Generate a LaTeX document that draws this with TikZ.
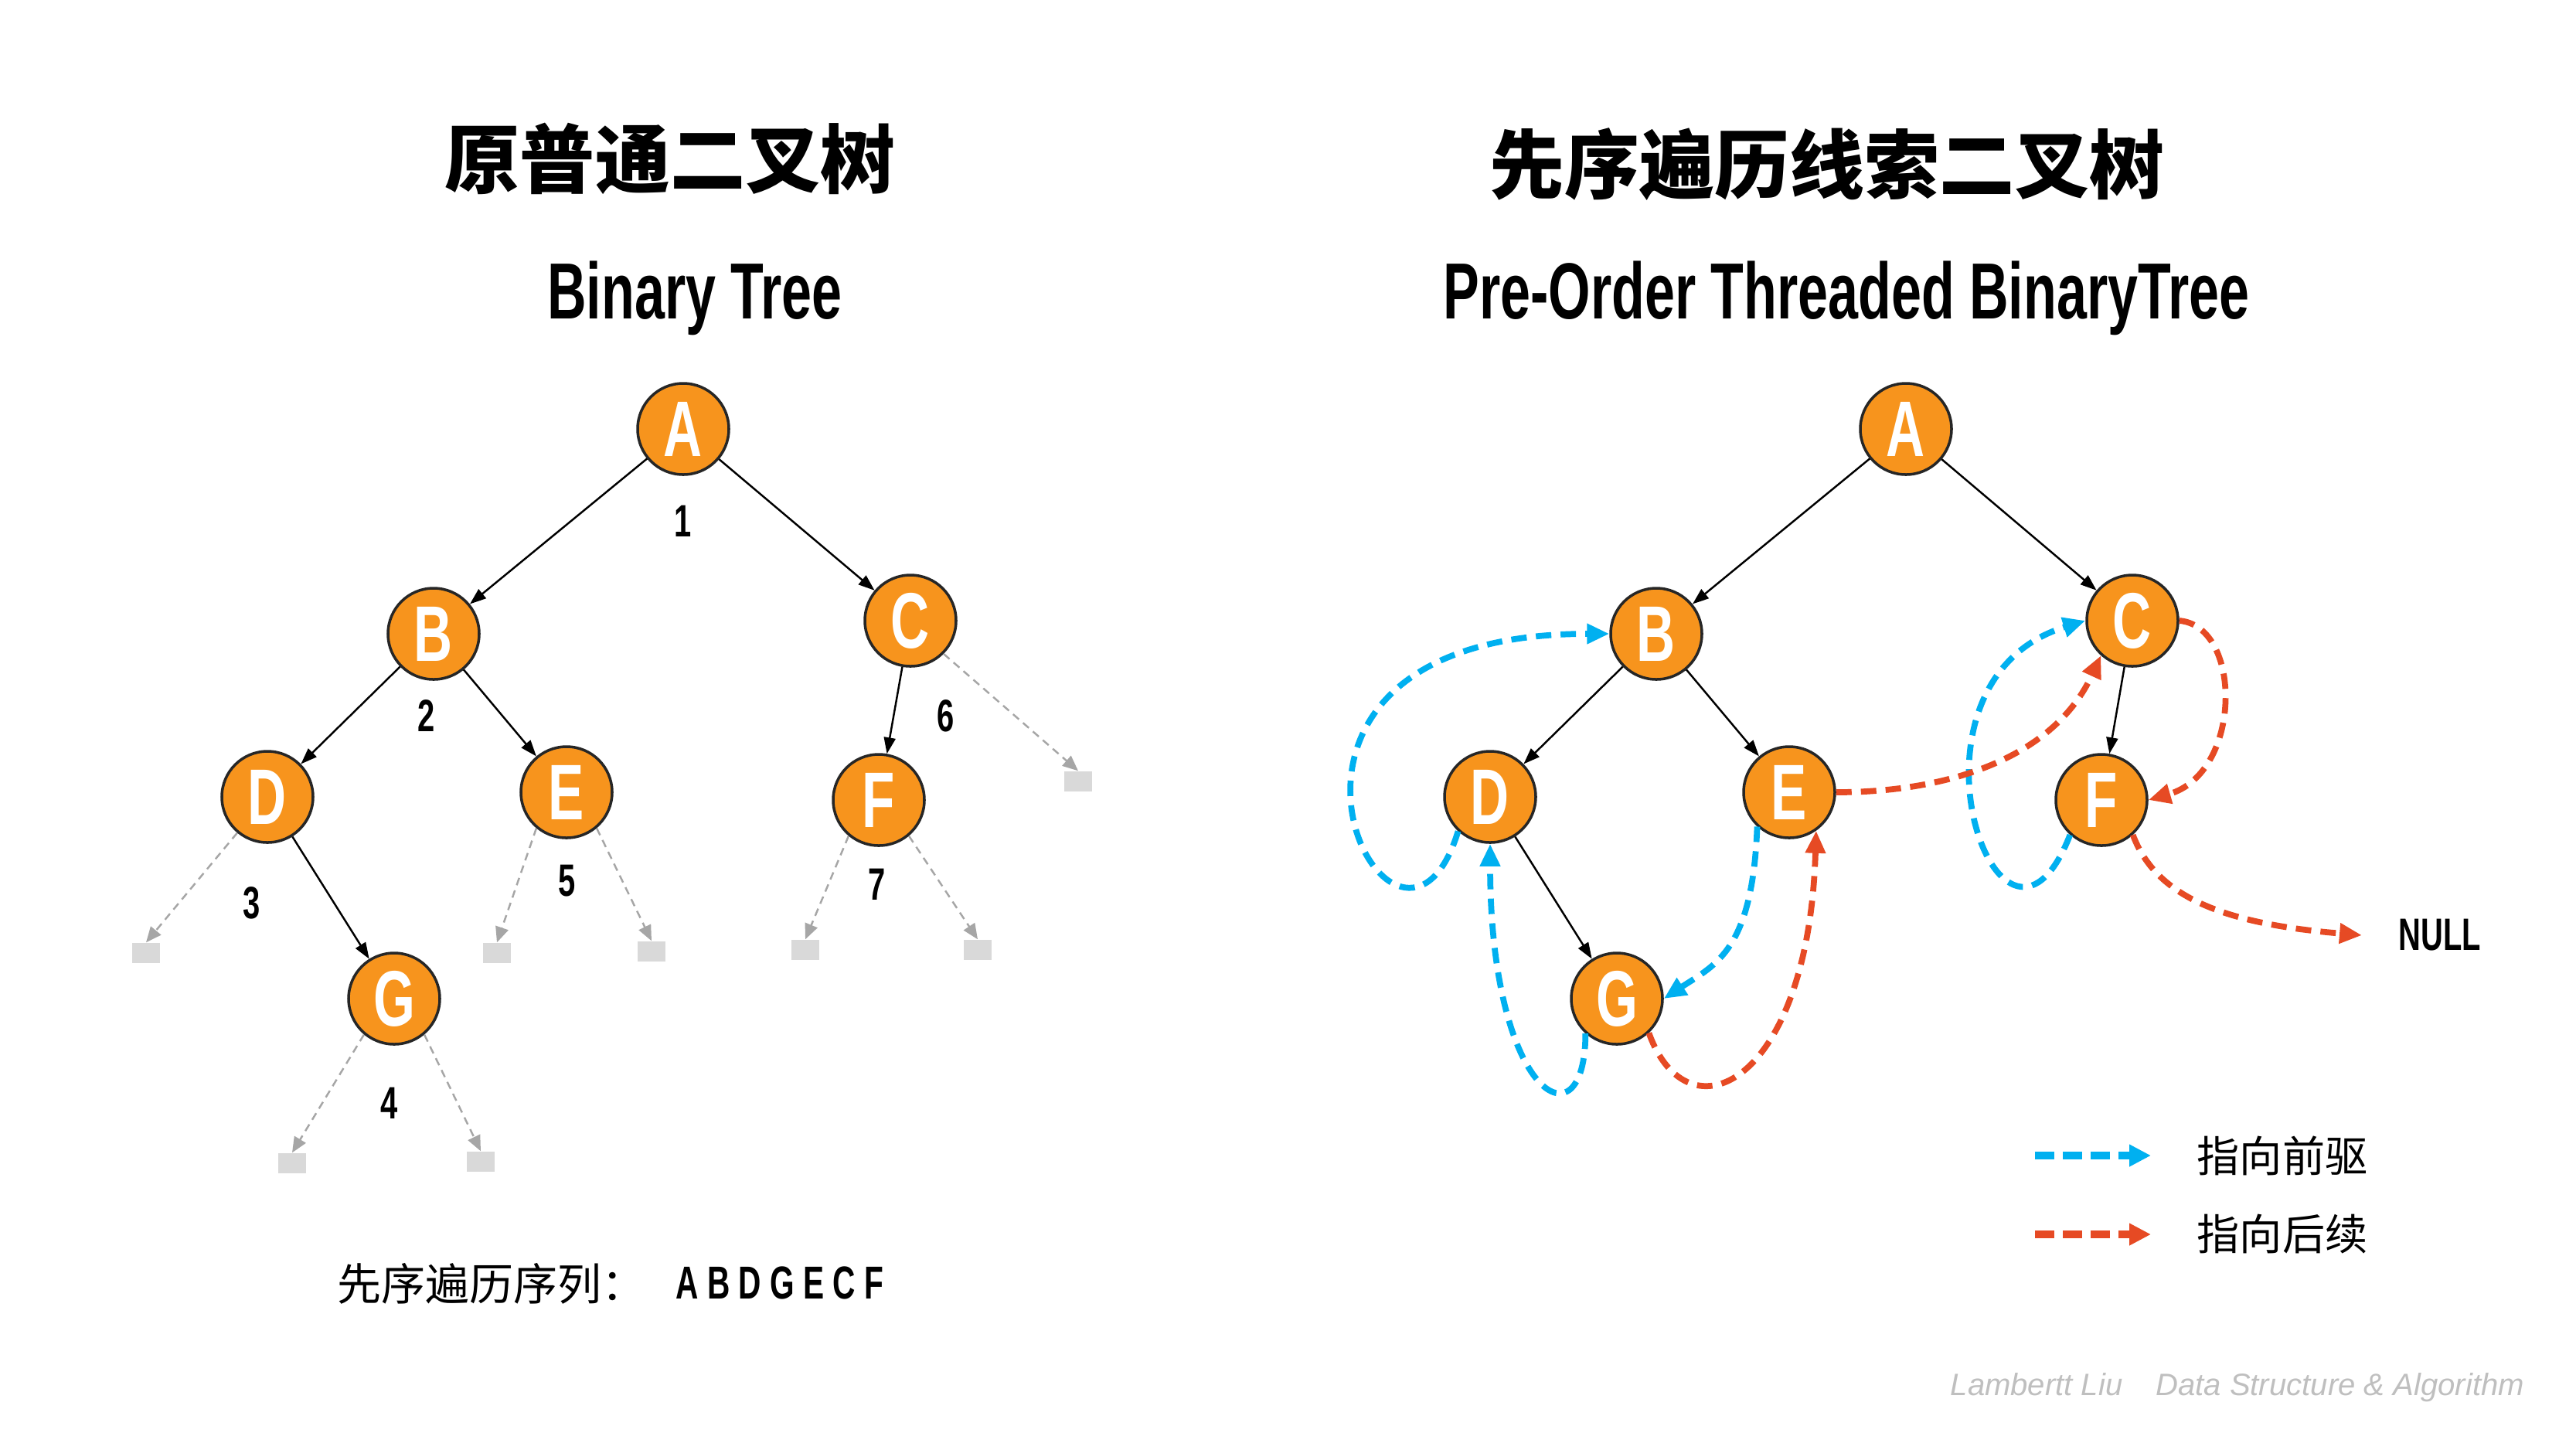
\documentclass[tikz,border=0pt]{standalone}
\usepackage{fontspec}
\usepackage{tikz}
\usetikzlibrary{arrows.meta, shapes.geometric}
\newfontfamily\cjk{Noto Sans CJK SC}
\newfontfamily\cond[FakeStretch=0.68]{Liberation Sans}
\newfontfamily\markfont{Liberation Sans}
\definecolor{nodeorange}{HTML}{F7941D}
\definecolor{nodeline}{HTML}{262626}
\definecolor{threadblue}{HTML}{00B0F0}
\definecolor{threadred}{HTML}{E64A24}
\definecolor{nilgray}{HTML}{D9D9D9}
\definecolor{arrowgray}{HTML}{A6A6A6}
\definecolor{markgray}{HTML}{BFBFBF}

\begin{document}
\begin{tikzpicture}[
  tnode/.style={circle, minimum size=1.18cm, inner sep=0pt, draw=nodeline,
                line width=1pt, fill=nodeorange, text=white,
                font=\cond\bfseries\fontsize{29}{30}\selectfont},
  nil/.style={rectangle, minimum width=0.36cm, minimum height=0.26cm,
              inner sep=0pt, fill=nilgray},
  link/.style={-{Triangle[length=0.21cm,width=0.15cm]}, line width=0.7pt, black},
  nillink/.style={-{Triangle[length=0.2cm,width=0.17cm]}, line width=0.7pt,
                  arrowgray, dash pattern=on 0.1cm off 0.07cm},
  thread/.style={-{Triangle[length=0.29cm,width=0.25cm]}, line width=2.2pt,
                 dash pattern=on 0.2cm off 0.12cm},
  prethread/.style={thread, threadblue},
  sucthread/.style={thread, threadred},
  legthread/.style={-{Triangle[length=0.28cm,width=0.27cm]}, line width=0.1cm,
                    dash pattern=on 0.25cm off 0.11cm},
  order/.style={font=\cond\bfseries\fontsize{16.7}{18}\selectfont},
  ctitle/.style={font=\cjk\bfseries\fontsize{27.6}{30}\selectfont},
  etitle/.style={anchor=base, font=\cond\bfseries\fontsize{29.3}{32}\selectfont},
  legtxt/.style={anchor=west, inner sep=0pt, font=\cjk\fontsize{15.7}{17}\selectfont},
]
  \path[use as bounding box, fill=white] (0,0) rectangle (33.33,-18.75);

  \node[ctitle] (ltitle) at (8.67,-2.05)  {原普通二叉树};
  \node[etitle] (lsub)   at (8.99,-4.12)  {Binary Tree};
  \node[ctitle] (rtitle) at (23.64,-2.13) {先序遍历线索二叉树};
  \node[etitle] (rsub)   at (23.89,-4.12) {Pre-Order Threaded BinaryTree};

  \node[tnode] (lA) at (8.84,-5.55)  {A};
  \node[tnode] (lB) at (5.61,-8.20)  {B};
  \node[tnode] (lC) at (11.78,-8.03) {C};
  \node[tnode] (lD) at (3.46,-10.31) {D};
  \node[tnode] (lE) at (7.33,-10.25) {E};
  \node[tnode] (lF) at (11.37,-10.35){F};
  \node[tnode] (lG) at (5.10,-12.92) {G};

  \node[nil] (nD)  at (1.89,-12.33)  {};
  \node[nil] (nEl) at (6.43,-12.33)  {};
  \node[nil] (nEr) at (8.43,-12.31)  {};
  \node[nil] (nFl) at (10.42,-12.29) {};
  \node[nil] (nFr) at (12.65,-12.29) {};
  \node[nil] (nC)  at (13.95,-10.11) {};
  \node[nil] (nGl) at (3.78,-15.05)  {};
  \node[nil] (nGr) at (6.22,-15.03)  {};

  \node[order] (o1) at (8.84,-6.74)  {1};
  \node[order] (o2) at (5.52,-9.26)  {2};
  \node[order] (o3) at (3.26,-11.68) {3};
  \node[order] (o4) at (5.04,-14.27) {4};
  \node[order] (o5) at (7.34,-11.40) {5};
  \node[order] (o6) at (12.24,-9.26) {6};
  \node[order] (o7) at (11.35,-11.44){7};

  \draw[link] (lA) -- (lB);
  \draw[link] (lA) -- (lC);
  \draw[link] (lB) -- (lD);
  \draw[link] (lB) -- (lE);
  \draw[link] (lC) -- (lF);
  \draw[link] (lD) -- (lG);
  \draw[nillink] (lD.-130) -- (nD.north);
  \draw[nillink] (lE.-130) -- (nEl.north);
  \draw[nillink] (lE.-50)  -- (nEr.north);
  \draw[nillink] (lF.-130) -- (nFl.north);
  \draw[nillink] (lF.-50)  -- (nFr.north);
  \draw[nillink] (lC.-45)  -- (nC.north);
  \draw[nillink] (lG.-130) -- (nGl.north);
  \draw[nillink] (lG.-50)  -- (nGr.north);

  \node[inner sep=0pt, anchor=base west, font=\cjk\fontsize{16.2}{18}\selectfont]
    (seqcn) at (4.36,-16.82) {先序遍历序列：};
  \node[inner sep=0pt, anchor=base west, font=\cond\bfseries\fontsize{17}{19}\selectfont]
    (seqen) at (8.74,-16.80) {A B D G E C F};

  \node[tnode] (rA) at (24.66,-5.55)  {A};
  \node[tnode] (rB) at (21.43,-8.20)  {B};
  \node[tnode] (rC) at (27.59,-8.03)  {C};
  \node[tnode] (rD) at (19.28,-10.31) {D};
  \node[tnode] (rE) at (23.15,-10.25) {E};
  \node[tnode] (rF) at (27.19,-10.35) {F};
  \node[tnode] (rG) at (20.92,-12.92) {G};
  \node[order, inner sep=0pt] (null) at (31.57,-12.10) {NULL};
  \coordinate (nullpt) at (30.56,-12.10);

  \draw[link] (rA) -- (rB);
  \draw[link] (rA) -- (rC);
  \draw[link] (rB) -- (rD);
  \draw[link] (rB) -- (rE);
  \draw[link] (rC) -- (rF);
  \draw[link] (rD) -- (rG);

  \draw[prethread] (rD.-133) .. controls +(-0.8,-2.6) and +(-5.4,0) .. (rB.west);
  \draw[prethread] (rG.-132) .. controls +(0,-1.5) and +(0,-3.3) .. (rD.south);
  \draw[prethread] (rE.-133) .. controls +(-0.06,-1.6) and +(0.67,0.44) .. (rG.east);
  \draw[prethread] (rF.-132) .. controls +(-0.9,-2.3) and +(-2.6,-0.8) .. (rC.west);
  \draw[sucthread] (rG.-47) .. controls +(0.5,-1.4) and +(-0.1,-3.3) .. (rE.-55);
  \draw[sucthread] (rE.east) .. controls +(1.5,0) and +(-0.6,-1.3) .. (rC.-132);
  \draw[sucthread] (rC.east) .. controls +(0.82,-0.07) and +(1.22,0.35) .. (rF.east);
  \draw[sucthread] (rF.-48) .. controls +(0.3,-0.8) and +(-1.8,0.15) .. (nullpt);

  \coordinate (lgpre)  at (26.33,-14.95);
  \coordinate (lgpre2) at (27.83,-14.95);
  \coordinate (lgsuc)  at (26.33,-15.97);
  \coordinate (lgsuc2) at (27.83,-15.97);
  \node[legtxt] (txtpre) at (28.42,-14.95) {指向前驱};
  \node[legtxt] (txtsuc) at (28.42,-15.97) {指向后续};
  \draw[legthread, threadblue] (lgpre) -- (lgpre2);
  \draw[legthread, threadred]  (lgsuc) -- (lgsuc2);

  \node[inner sep=0pt, anchor=base west, text=markgray,
        font=\markfont\itshape\fontsize{11.4}{13}\selectfont]
    (sign) at (25.23,-18.05) {Lambertt Liu\hspace{0.43cm}Data Structure \& Algorithm};
\end{tikzpicture}
\end{document}
